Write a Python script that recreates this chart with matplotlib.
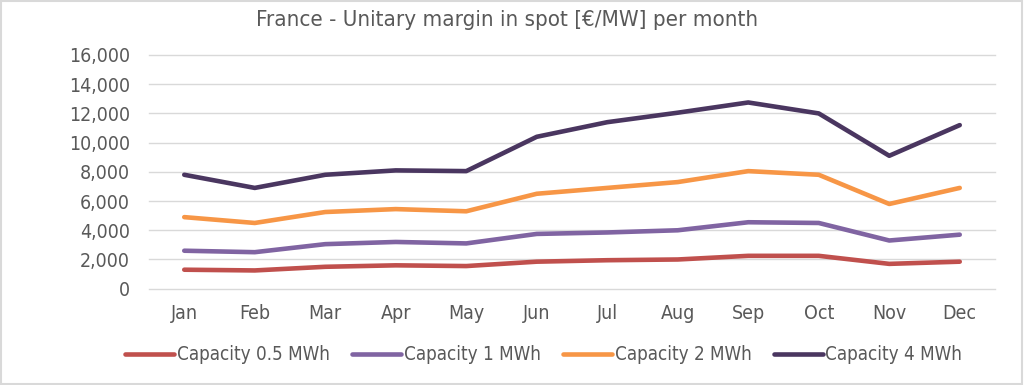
import matplotlib
matplotlib.use("Agg")
import matplotlib.pyplot as plt
from matplotlib.patches import Rectangle

months = ["Jan", "Feb", "Mar", "Apr", "May", "Jun", "Jul", "Aug", "Sep", "Oct", "Nov", "Dec"]
cap_05 = [1300, 1250, 1500, 1600, 1550, 1850, 1950, 2000, 2250, 2250, 1700, 1850]
cap_1 = [2600, 2500, 3050, 3200, 3100, 3750, 3850, 4000, 4550, 4500, 3300, 3700]
cap_2 = [4900, 4500, 5250, 5450, 5300, 6500, 6900, 7300, 8050, 7800, 5800, 6900]
cap_4 = [7800, 6900, 7800, 8100, 8050, 10400, 11400, 12050, 12750, 12000, 9100, 11200]

series = [
    ("Capacity 0.5 MWh", cap_05, "#C0504D"),
    ("Capacity 1 MWh", cap_1, "#8064A2"),
    ("Capacity 2 MWh", cap_2, "#F79646"),
    ("Capacity 4 MWh", cap_4, "#4A3660"),
]

plt.rcParams["font.family"] = ["DejaVu Sans"]
plt.rcParams["font.stretch"] = "condensed"
text_col = "#595959"

fig = plt.figure(figsize=(10.24, 3.85), dpi=100)
fig.patches.append(Rectangle((0.001, 0.002), 0.997, 0.995, transform=fig.transFigure,
                             fill=False, edgecolor="#D9D9D9", lw=1.5))
ax = fig.add_axes([149 / 1024, 1 - 288.7 / 385, (995 - 149) / 1024, (288.7 - 55) / 385])

x = range(len(months))
for name, vals, col in series:
    ax.plot(x, vals, color=col, lw=3.3, label=name, solid_capstyle="round", solid_joinstyle="round")

ax.set_xlim(-0.5, 11.5)
ax.set_ylim(0, 16000)
ax.set_yticks(range(0, 16001, 2000))
ax.set_yticklabels([f"{v:,}" for v in range(0, 16001, 2000)])
ax.set_xticks(list(x))
ax.set_xticklabels(months)
ax.grid(axis="y", color="#D9D9D9", lw=1)
for gl in ax.get_ygridlines():
    gl.set_clip_on(False)
ax.set_axisbelow(True)
for s in ax.spines.values():
    s.set_visible(False)
ax.tick_params(length=0, labelsize=14, colors=text_col, pad=11)
ax.tick_params(axis="y", pad=13.7)

fig.suptitle("France - Unitary margin in spot [€/MW] per month", x=0.495, y=0.975, fontsize=16,
             color=text_col)
fig.legend(loc="center", bbox_to_anchor=(0.531, 0.078), ncol=4, frameon=False, fontsize=13.5,
           labelcolor=text_col, handlelength=2.6, handletextpad=0.15, columnspacing=1.2)

fig.savefig("out.png", dpi=100)
